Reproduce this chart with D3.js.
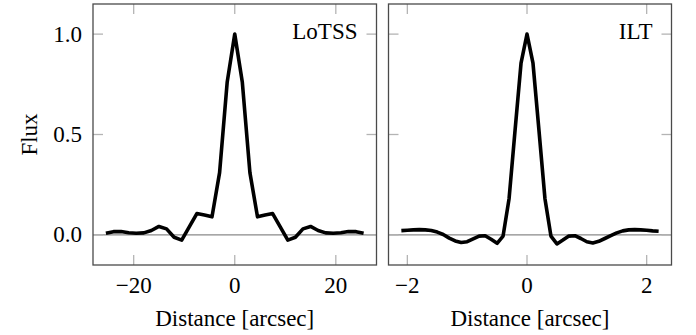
<!DOCTYPE html>
<html><head><meta charset="utf-8">
<script src="https://cdn.jsdelivr.net/npm/d3@7"></script>
<style>
body{margin:0;background:#fff;}
text{font-family:"Liberation Serif","Times New Roman",serif;fill:#000;}
</style></head>
<body><svg id="c" width="696" height="335"></svg>
<script>
const lotssX = [-25.5,-24,-22.5,-21,-19.5,-18,-16.5,-15,-13.5,-12,-10.5,-9,-7.5,-6,-4.5,-3,-1.5,0,1.5,3,4.5,6,7.5,9,10.5,12,13.5,15,16.5,18,19.5,21,22.5,24,25.5];
const lotssY = [0.008,0.016,0.017,0.011,0.008,0.010,0.022,0.042,0.030,-0.012,-0.026,0.040,0.106,0.099,0.090,0.31,0.76,1.0,0.76,0.31,0.090,0.099,0.106,0.040,-0.026,-0.012,0.030,0.042,0.022,0.010,0.008,0.011,0.017,0.016,0.008];
const iltX = [-2.1,-2.0,-1.9,-1.8,-1.7,-1.6,-1.5,-1.4,-1.3,-1.2,-1.1,-1.0,-0.9,-0.8,-0.7,-0.6,-0.5,-0.4,-0.3,-0.2,-0.1,0,0.1,0.2,0.3,0.4,0.5,0.6,0.7,0.8,0.9,1.0,1.1,1.2,1.3,1.4,1.5,1.6,1.7,1.8,1.9,2.0,2.1,2.2];
const iltY = [0.021,0.023,0.025,0.026,0.025,0.022,0.014,0.002,-0.016,-0.030,-0.038,-0.034,-0.020,-0.006,-0.004,-0.022,-0.042,-0.006,0.18,0.52,0.855,1.0,0.855,0.52,0.18,-0.006,-0.045,-0.026,-0.006,-0.004,-0.018,-0.034,-0.040,-0.032,-0.018,-0.004,0.010,0.020,0.025,0.026,0.025,0.023,0.020,0.018];
const lotssTicks = [-20,0,20];
const iltTicks = [-2,0,2];
const yTicks = [0,0.5,1.0];
const yDomain = [-0.15,1.15];
(function(){
const panels = [
  {name:"LoTSS", xs:lotssX, ys:lotssY, ticks:lotssTicks, left:93, right:376.5, showY:true},
  {name:"ILT", xs:iltX, ys:iltY, ticks:iltTicks, left:388.5, right:671.5, showY:false}
];
const pTop=4, pBottom=265, fs=23, tl=10;
const svg = d3.select("#c");
const fmtX = d => d<0 ? "\u2212"+Math.abs(d) : String(d);
panels.forEach(p=>{
  const xmin=d3.min(p.xs), xmax=d3.max(p.xs), pad=(xmax-xmin)*0.05;
  const x=d3.scaleLinear().domain([xmin-pad,xmax+pad]).range([p.left,p.right]);
  const y=d3.scaleLinear().domain(yDomain).range([pBottom,pTop]);
  const g=svg.append("g");
  g.append("line").attr("x1",p.left).attr("x2",p.right).attr("y1",y(0)).attr("y2",y(0))
    .attr("stroke","#8a8a8a").attr("stroke-width",1.2);
  const tk=g.append("g").attr("stroke","#b4b4b4").attr("stroke-width",1.3);
  p.ticks.forEach(t=>{
    tk.append("line").attr("x1",x(t)).attr("x2",x(t)).attr("y1",pBottom).attr("y2",pBottom-tl);
    tk.append("line").attr("x1",x(t)).attr("x2",x(t)).attr("y1",pTop).attr("y2",pTop+tl);
  });
  yTicks.forEach(t=>{
    tk.append("line").attr("x1",p.left).attr("x2",p.left+tl).attr("y1",y(t)).attr("y2",y(t));
    tk.append("line").attr("x1",p.right).attr("x2",p.right-tl).attr("y1",y(t)).attr("y2",y(t));
  });
  const pts=p.xs.map((v,i)=>[v,p.ys[i]]);
  g.append("path").attr("d",d3.line().x(d=>x(d[0])).y(d=>y(d[1]))(pts))
    .attr("fill","none").attr("stroke","#000").attr("stroke-width",3.6).attr("stroke-linejoin","round");
  g.append("rect").attr("x",p.left).attr("y",pTop).attr("width",p.right-p.left).attr("height",pBottom-pTop)
    .attr("fill","none").attr("stroke","#4a4a4a").attr("stroke-width",1.3);
  p.ticks.forEach(t=>{
    g.append("text").attr("x",x(t)).attr("y",293).attr("text-anchor","middle").attr("font-size",fs).text(fmtX(t));
  });
  g.append("text").attr("x",(p.left+p.right)/2).attr("y",326).attr("text-anchor","middle").attr("font-size",fs).text("Distance [arcsec]");
  g.append("text").attr("x",p.right-19).attr("y",39).attr("text-anchor","end").attr("font-size",fs).text(p.name);
  if(p.showY){
    yTicks.forEach(t=>{
      g.append("text").attr("x",p.left-11).attr("y",y(t)+7.5).attr("text-anchor","end").attr("font-size",fs).text(t.toFixed(1));
    });
    g.append("text").attr("transform",`translate(37,${(pTop+pBottom)/2}) rotate(-90)`).attr("text-anchor","middle").attr("font-size",fs).text("Flux");
  }
});
})();
</script></body></html>
